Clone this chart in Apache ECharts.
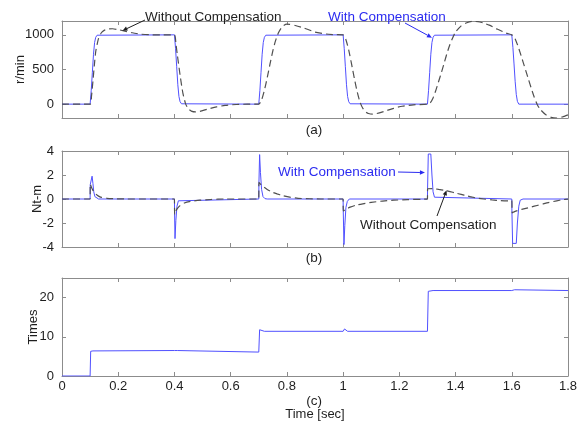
<!DOCTYPE html>
<html><head><meta charset="utf-8">
<script src="https://cdn.jsdelivr.net/npm/echarts@6/dist/echarts.min.js"></script>
<style>html,body{margin:0;padding:0;background:#fff}#c{width:587px;height:424px}</style>
</head><body><div id="c"></div>
<script>
// ---------- (a) speed, r/min ----------
const speedWithT = [0,0.1,0.104,0.108,0.112,0.116,0.12,0.125,0.13,
  0.4,0.404,0.408,0.412,0.416,0.42,0.425,0.43,
  0.7,0.704,0.708,0.712,0.716,0.72,0.725,0.73,
  1.0,1.004,1.008,1.012,1.016,1.02,1.025,1.03,
  1.3,1.304,1.308,1.312,1.316,1.32,1.325,1.33,
  1.6,1.604,1.608,1.612,1.616,1.62,1.625,1.632,1.64,1.8];
const speedWith = [0,0,200,460,720,890,965,995,1000,
  1000,800,540,280,110,35,5,0,
  0,200,460,720,890,965,995,1000,
  1000,800,540,280,110,35,5,0,
  0,200,460,720,890,965,995,1000,
  1000,820,580,330,140,40,0,-12,0,0];
const speedWithoutT = [0,0.1,0.105,0.11,0.115,0.12,0.13,0.14,0.15,0.165,0.18,0.2,0.22,0.25,0.28,0.31,0.35,
  0.4,0.405,0.41,0.42,0.43,0.44,0.45,0.46,0.475,0.49,0.52,0.55,0.58,0.62,0.66,
  0.7,0.71,0.72,0.73,0.74,0.75,0.76,0.77,0.78,0.79,0.8,0.81,0.83,0.86,0.9,0.94,0.97,
  1.0,1.01,1.02,1.03,1.04,1.05,1.06,1.07,1.08,1.09,1.105,1.12,1.15,1.18,1.21,1.25,
  1.3,1.31,1.32,1.33,1.34,1.35,1.36,1.37,1.38,1.39,1.4,1.42,1.44,1.46,1.48,1.5,1.52,1.55,1.58,
  1.6,1.61,1.62,1.63,1.64,1.65,1.66,1.67,1.68,1.69,1.7,1.72,1.74,1.76,1.78,1.8];
const speedWithout = [0,0,120,330,560,760,950,1030,1065,1085,1088,1075,1058,1030,1010,1002,1000,
  1000,880,720,420,160,0,-70,-100,-112,-105,-70,-40,-18,-5,0,
  0,60,200,380,580,770,920,1030,1100,1140,1155,1152,1135,1100,1040,1012,1003,
  1000,930,780,580,370,180,30,-60,-110,-135,-145,-135,-100,-60,-30,-10,
  0,20,90,200,330,460,600,740,860,960,1040,1130,1175,1195,1190,1170,1140,1080,1025,
  1000,960,860,740,610,480,350,220,100,0,-70,-150,-190,-200,-185,-155];

// ---------- (b) torque, Nt-m ----------
const torqueWithT = [0,0.1,0.1005,0.104,0.107,0.11,0.113,0.117,0.122,0.13,
  0.4,0.4005,0.402,0.405,0.409,0.414,0.42,
  0.7,0.7005,0.703,0.706,0.71,0.715,0.722,0.73,
  1.0,1.0005,1.003,1.006,1.01,1.015,1.022,
  1.3,1.3005,1.303,1.312,1.316,1.32,1.325,1.332,
  1.6,1.6005,1.603,1.616,1.62,1.625,1.63,1.64,1.8];
const torqueWith = [0,0,1.2,1.3,1.9,1.3,0.6,0.2,0.05,0,
  0,-1.2,-3.3,-1.8,-0.6,-0.15,0,
  0,1.3,3.7,2.2,0.8,0.2,0.03,0,
  0,-1.0,-3.8,-2.2,-0.7,-0.2,0,
  0,0.9,3.75,3.75,2.0,0.6,0.15,0,
  0,-1.0,-3.7,-3.7,-2.0,-0.6,-0.1,0,0];
const torqueWithoutT = [0,0.1,0.1005,0.105,0.11,0.12,0.13,0.14,0.16,0.19,0.23,
  0.4,0.4005,0.405,0.41,0.42,0.435,0.457,0.49,0.53,0.58,
  0.7,0.7005,0.71,0.72,0.73,0.745,0.765,0.785,0.81,0.84,0.88,0.92,
  1.0,1.0005,1.01,1.025,1.045,1.07,1.1,1.14,1.18,1.23,1.28,
  1.3,1.3005,1.32,1.34,1.36,1.38,1.4,1.42,1.44,1.46,1.48,1.5,1.53,1.56,1.59,
  1.6,1.6015,1.61,1.62,1.635,1.65,1.67,1.69,1.71,1.73,1.76,1.78,1.8];
const torqueWithout = [0,0,1.25,0.95,0.72,0.42,0.24,0.14,0.06,0.02,0,
  0,-1.3,-1.0,-0.8,-0.55,-0.33,-0.2,-0.1,-0.04,0,
  0,1.38,1.15,0.97,0.8,0.6,0.43,0.28,0.15,0.06,0.02,0,
  0,-1.0,-0.86,-0.68,-0.52,-0.4,-0.28,-0.17,-0.1,-0.05,-0.02,
  0,0.85,0.86,0.8,0.73,0.62,0.5,0.38,0.26,0.15,0.06,0,-0.08,-0.13,-0.15,
  -0.12,-1.15,-1.05,-0.97,-0.87,-0.78,-0.66,-0.54,-0.42,-0.3,-0.15,-0.06,0];

// ---------- (c) Times ----------
const timesT = [0,0.1,0.102,0.11,0.4,0.405,0.41,0.416,0.7,0.703,0.71,0.72,
  1.0,1.005,1.01,1.016,1.3,1.303,1.31,1.32,1.6,1.605,1.61,1.616,1.8];
const times = [0,0,6.3,6.4,6.5,6.8,6.5,6.1,6.1,11.8,12.0,11.4,
  11.4,12.0,11.8,11.4,11.4,21.6,22.1,21.8,21.8,22.3,22.0,21.8,21.8];

// ---------- axis ticks ----------
const speedTicks = [0,500,1000];
const torqueTicks = [-4,-2,0,2,4];
const timesTicks = [0,10,20];

const zip = (a,b) => a.map((t,i)=>[t,b[i]]);
const FONT = '"Liberation Sans", Arial, sans-serif';
const FRAME = '#8c8c8c';
const TXT = '#1e1e1e';
const BLUE_LINE = '#5050ff';
const BLUE_TXT = '#2b2bf0';
const DASH = '#505050';

const grids = [
  {left:62, right:19, top:21, height:97, containLabel:false, outerBoundsMode:'none'},
  {left:62, right:19, top:151, height:96, containLabel:false, outerBoundsMode:'none'},
  {left:62, right:19, top:278, height:98, containLabel:false, outerBoundsMode:'none'}
];
const yCfg = [
  {min:-200, max:1200, ticks:speedTicks, name:'r/min', gap:35},
  {min:-4, max:4, ticks:torqueTicks, name:'Nt-m', gap:18},
  {min:0, max:25, ticks:timesTicks, name:'Times', gap:22}
];
const xAxes = [], yAxes = [];
grids.forEach((g,i)=>{
  const tick = {show:true, inside:true, length:4, lineStyle:{color:FRAME, width:1}};
  const line = {show:true, onZero:false, lineStyle:{color:FRAME, width:1}};
  xAxes.push({gridIndex:i, type:'value', position:'bottom', min:0, max:1.8, interval:0.2,
    axisLine:line, axisTick:tick, splitLine:{show:false},
    axisLabel:{show:i===2, margin:4, color:TXT, fontFamily:FONT, fontSize:13,
      formatter:v=>String(+v.toFixed(1))},
    name: i===2 ? 'Time [sec]' : '', nameLocation:'middle', nameGap:32, nameMoveOverlap:false,
    nameTextStyle:{color:TXT, fontFamily:FONT, fontSize:13}});
  xAxes.push({gridIndex:i, type:'value', position:'top', min:0, max:1.8, interval:0.2,
    axisLine:line, axisTick:tick, splitLine:{show:false}, axisLabel:{show:false}});
  const y = yCfg[i];
  yAxes.push({gridIndex:i, type:'value', position:'left', min:y.min, max:y.max,
    axisLine:line, axisTick:Object.assign({customValues:y.ticks}, tick), splitLine:{show:false},
    axisLabel:{customValues:y.ticks, margin:8, color:TXT, fontFamily:FONT, fontSize:13,
      formatter:v=>String(v)},
    name:y.name, nameLocation:'middle', nameGap:y.gap, nameRotate:90, nameMoveOverlap:false,
    nameTextStyle:{color:TXT, fontFamily:FONT, fontSize:13}});
  yAxes.push({gridIndex:i, type:'value', position:'right', min:y.min, max:y.max,
    axisLine:line, axisTick:Object.assign({customValues:y.ticks}, tick), splitLine:{show:false},
    axisLabel:{show:false}});
});

const lineSeries = (name, data, gi, dashed) => ({
  name, type:'line', data, xAxisIndex:2*gi, yAxisIndex:2*gi, showSymbol:false, symbol:'none',
  lineStyle: dashed ? {color:DASH, width:1.2, type:[7,4]} : {color:BLUE_LINE, width:1},
  smooth: dashed ? 0.2 : false, animation:false, z: dashed ? 3 : 2
});

const chart = echarts.init(document.getElementById('c'), null, {renderer:'canvas'});
chart.setOption({
  backgroundColor:'#fff', animation:false,
  grid:grids, xAxis:xAxes, yAxis:yAxes,
  series:[
    lineSeries('With Compensation', zip(speedWithT, speedWith), 0, false),
    lineSeries('Without Compensation', zip(speedWithoutT, speedWithout), 0, true),
    lineSeries('With Compensation', zip(torqueWithT, torqueWith), 1, false),
    lineSeries('Without Compensation', zip(torqueWithoutT, torqueWithout), 1, true),
    lineSeries('Times', zip(timesT, times), 2, false)
  ]
});

// ---------- annotations ----------
const px = (gi, p) => chart.convertToPixel({xAxisIndex:2*gi, yAxisIndex:2*gi}, p);
function arrow(from, to, color){
  const dx=to[0]-from[0], dy=to[1]-from[1], L=Math.hypot(dx,dy), ux=dx/L, uy=dy/L;
  const hl=5, hw=2.2;
  const b=[to[0]-ux*hl, to[1]-uy*hl];
  return [
    {type:'line', shape:{x1:from[0],y1:from[1],x2:b[0],y2:b[1]}, style:{stroke:color, lineWidth:1}, z:10},
    {type:'polygon', shape:{points:[to,[b[0]-uy*hw,b[1]+ux*hw],[b[0]+uy*hw,b[1]-ux*hw]]}, style:{fill:color}, z:10}
  ];
}
const label = (text, x, y, color, align) => ({type:'text', x, y, z:10,
  style:{text, fill:color, font:'13.5px '+FONT, textAlign:align||'left', textVerticalAlign:'middle'}});

const g = [
  label('Without Compensation', 145, 17, TXT),
  label('With Compensation', 328, 17, BLUE_TXT),
  label('With Compensation', 278, 172, BLUE_TXT),
  label('Without Compensation', 360, 225, TXT),
  label('(a)', 314, 130, TXT, 'center'),
  label('(b)', 314, 258, TXT, 'center'),
  label('(c)', 314, 401, TXT, 'center'),
  ...arrow([145, 20], px(0, [0.215, 1060]), TXT),
  ...arrow([405, 23], px(0, [1.316, 960]), BLUE_TXT),
  ...arrow([398, 172], px(1, [1.291, 2.2]), BLUE_TXT),
  ...arrow([437, 216], px(1, [1.368, 0.72]), TXT)
];
chart.setOption({graphic:g});
</script></body></html>
